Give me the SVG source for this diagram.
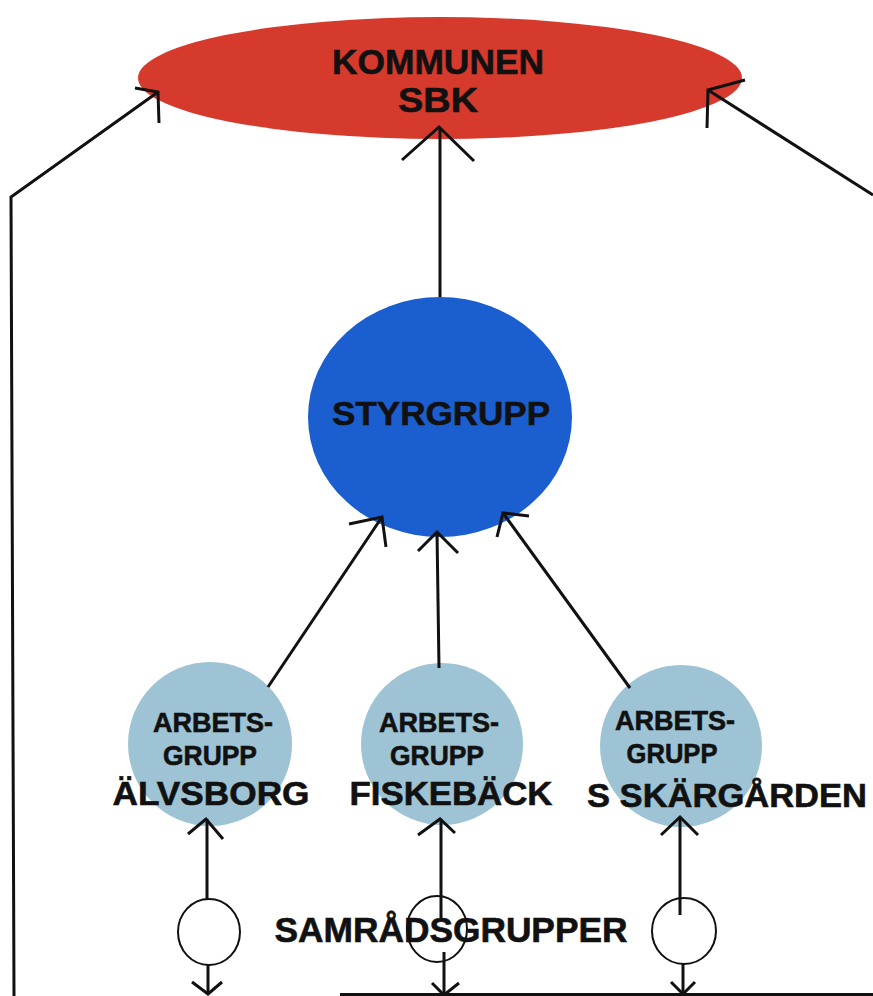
<svg xmlns="http://www.w3.org/2000/svg" width="873" height="996" viewBox="0 0 873 996">
<style>
text{font-family:"Liberation Sans",Arial,sans-serif;font-weight:bold;fill:#111;stroke:#111;stroke-width:0.6;text-anchor:middle}
.con line,.con path,.con polyline{stroke:#111;stroke-width:3;fill:none;stroke-linecap:butt;stroke-linejoin:miter}
.small{fill:none;stroke:#111;stroke-width:2}
.arb{fill:#9dc3d4}
.t27{font-size:27px}
.t34{font-size:34px}
</style>
<rect width="873" height="996" fill="#fff"/>
<g id="kommunen">
<ellipse cx="440" cy="78" rx="302" ry="61" fill="#d63a2c"/>
<text x="438" y="74" style="font-size:35px" textLength="212" lengthAdjust="spacingAndGlyphs">KOMMUNEN</text>
<text x="438" y="112" style="font-size:35px" textLength="80" lengthAdjust="spacingAndGlyphs">SBK</text>
</g>
<g id="styrgrupp">
<ellipse cx="440" cy="417" rx="132" ry="120" fill="#1b5ecf"/>
<text x="441" y="425" class="t34" textLength="218" lengthAdjust="spacingAndGlyphs">STYRGRUPP</text>
</g>
<g id="arbetsgrupp-alvsborg">
<circle cx="210" cy="744" r="82" class="arb"/>
<text x="213" y="732" class="t27" textLength="120" lengthAdjust="spacingAndGlyphs">ARBETS-</text>
<text x="210" y="765" class="t27" textLength="94" lengthAdjust="spacingAndGlyphs">GRUPP</text>
<text x="211" y="805" class="t34" textLength="197" lengthAdjust="spacingAndGlyphs">ÄLVSBORG</text>
</g>
<g id="arbetsgrupp-fiskeback">
<circle cx="442" cy="744" r="81" class="arb"/>
<text x="439" y="732" class="t27" textLength="120" lengthAdjust="spacingAndGlyphs">ARBETS-</text>
<text x="437" y="765" class="t27" textLength="94" lengthAdjust="spacingAndGlyphs">GRUPP</text>
<text x="451" y="805" class="t34" textLength="203" lengthAdjust="spacingAndGlyphs">FISKEBÄCK</text>
</g>
<g id="arbetsgrupp-skargarden">
<circle cx="681" cy="746" r="81" class="arb"/>
<text x="675" y="730" class="t27" textLength="120" lengthAdjust="spacingAndGlyphs">ARBETS-</text>
<text x="672" y="763" class="t27" textLength="91" lengthAdjust="spacingAndGlyphs">GRUPP</text>
<text x="727" y="807" class="t34" textLength="280" lengthAdjust="spacingAndGlyphs">S SKÄRGÅRDEN</text>
</g>
<g id="samradsgrupper">
<text x="451" y="942" style="font-size:35px" textLength="353" lengthAdjust="spacingAndGlyphs">SAMRÅDSGRUPPER</text>
</g>
<g id="samrad-1"><ellipse cx="209" cy="932" rx="31" ry="33" class="small"/></g>
<g id="samrad-2"><ellipse cx="437" cy="929" rx="30" ry="33" class="small"/></g>
<g id="samrad-3"><ellipse cx="684" cy="931" rx="32" ry="33" class="small"/></g>
<g id="connectors" class="con">
<polyline points="14,996 11,197 158,92"/>
<path d="M135,88 L158,92 L159,123"/>
<line x1="440" y1="297" x2="440" y2="128"/>
<path d="M402,160 L439,127 L474,161"/>
<line x1="873" y1="195" x2="708" y2="90"/>
<path d="M745,80 L708,90 L707,128"/>
<line x1="268" y1="687" x2="382" y2="517"/>
<path d="M349,524 L382,517 L386,547"/>
<line x1="439" y1="668" x2="437" y2="532"/>
<path d="M418,551 L437,532 L458,553"/>
<line x1="630" y1="688" x2="503" y2="513"/>
<path d="M529,516 L503,513 L497,537"/>
<line x1="207" y1="819" x2="207" y2="899"/>
<path d="M188,834 L206,819 L223,839"/>
<line x1="208" y1="965" x2="208" y2="994"/>
<path d="M192,982 L208,994 L222,982"/>
<line x1="441" y1="819" x2="441" y2="918"/>
<path d="M418,835 L440,819 L455,833"/>
<line x1="444" y1="952" x2="444" y2="995"/>
<path d="M432,983 L444,995 L459,983"/>
<line x1="680" y1="817" x2="680" y2="915"/>
<path d="M661,835 L680,817 L698,835"/>
<line x1="683" y1="964" x2="683" y2="995"/>
<path d="M671,982 L683,994 L695,982"/>
<line x1="340" y1="994.5" x2="873" y2="994.5"/>
</g>
</svg>
